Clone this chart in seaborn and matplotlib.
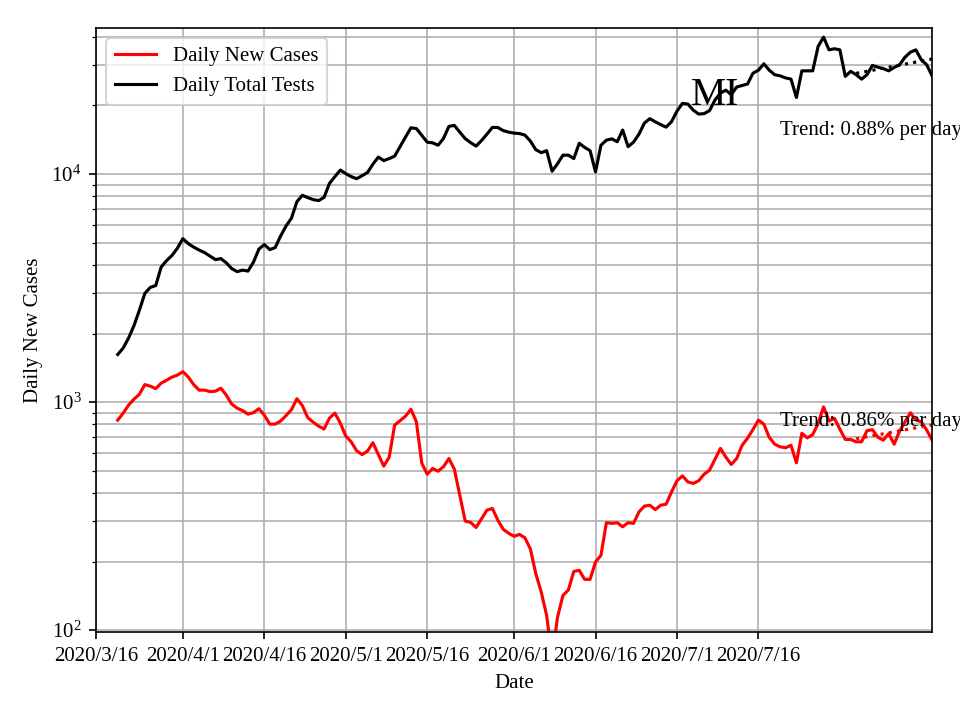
import numpy as np
import pandas as pd
import seaborn as sns
import matplotlib.pyplot as plt

# daily series, starting 2020-03-20
start = '2020-03-20'
new_cases = [834, 895, 970, 1031, 1083, 1194, 1175, 1146, 1211, 1248,
             1288, 1314, 1361, 1288, 1193, 1129, 1129, 1112, 1117, 1151,
             1073, 980, 941, 918, 886, 899, 936, 877, 801, 801,
             826, 873, 927, 1035, 966, 855, 817, 785, 762, 851,
             895, 809, 710, 670, 612, 589, 610, 664, 589, 524,
             574, 793, 829, 868, 931, 821, 540, 483, 512, 498,
             521, 566, 508, 391, 301, 297, 282, 308, 336, 342,
             304, 277, 266, 258, 263, 254, 227, 177, 147, 116,
             75, 114, 142, 150, 181, 183, 167, 167, 199, 213,
             296, 294, 296, 284, 296, 294, 330, 350, 353, 338,
             353, 357, 404, 452, 475, 447, 440, 452, 483, 503,
             562, 627, 574, 533, 566, 647, 695, 759, 834, 801,
             700, 654, 637, 631, 647, 542, 730, 697, 721, 806,
             953, 826, 849, 762, 686, 686, 670, 670, 750, 757,
             702, 681, 727, 654, 746, 820, 898, 834, 820, 754, 681]
total_tests = [1618, 1726, 1910, 2167, 2535, 3000, 3186, 3246, 3910, 4176,
               4400, 4735, 5213, 4955, 4783, 4643, 4527, 4368, 4216, 4260,
               4083, 3852, 3736, 3793, 3756, 4110, 4690, 4910, 4668, 4760,
               5350, 5920, 6412, 7567, 8075, 7888, 7730, 7656, 7906, 9102,
               9750, 10420, 10050, 9750, 9550, 9840, 10160, 11060, 11880, 11460,
               11700, 11990, 13200, 14530, 15960, 15850, 14790, 13810, 13710, 13390,
               14340, 16200, 16350, 15280, 14310, 13740, 13270, 14030, 14970, 16020,
               16020, 15520, 15280, 15130, 15060, 14830, 13960, 12800, 12420, 12670,
               10300, 11110, 12110, 12110, 11700, 13650, 13100, 12670, 10230, 13390,
               14090, 14280, 13870, 15600, 13200, 13810, 14970, 16740, 17510, 16960,
               16480, 16070, 16990, 18880, 20420, 20290, 19090, 18340, 18420, 18990,
               21130, 22660, 23350, 22320, 24100, 24460, 24850, 27720, 28560, 30470,
               28560, 27290, 26980, 26420, 26100, 21680, 28380, 28380, 28380, 36310,
               39900, 35070, 35460, 35070, 26840, 28240, 27290, 26100, 27290, 29990,
               29440, 29010, 28380, 29370, 30150, 32580, 34260, 35070, 31710, 30150, 26920]

tick_dates = ['2020-03-16', '2020-04-01', '2020-04-16', '2020-05-01', '2020-05-16',
              '2020-06-01', '2020-06-16', '2020-07-01', '2020-07-16']
tick_labels = ['2020/3/16', '2020/4/1', '2020/4/16', '2020/5/1', '2020/5/16',
               '2020/6/1', '2020/6/16', '2020/7/1', '2020/7/16']
trend_text = {'cases': 'Trend: 0.86% per day', 'tests': 'Trend: 0.88% per day'}
trend_days = 15

plt.rcParams['font.family'] = ['Liberation Serif', 'DejaVu Serif']
plt.rcParams['mathtext.fontset'] = 'stix'

dates = pd.date_range(start, periods=len(new_cases), freq='D')
df = pd.DataFrame({'date': dates, 'cases': new_cases, 'tests': total_tests})

fig, ax = plt.subplots(figsize=(6.4, 4.8), dpi=150)
fig.subplots_adjust(left=0.1, right=0.971, top=0.961, bottom=0.122)

sns.lineplot(x='date', y='cases', data=df, color='r', label='Daily New Cases', ax=ax)
sns.lineplot(x='date', y='tests', data=df, color='k', label='Daily Total Tests', ax=ax)
ax.set_yscale('log')

# log-linear fit over the last days
tail = df.tail(trend_days)
t = np.arange(trend_days)
text_y = {'cases': 826, 'tests': 15600}
for col, c in [('cases', 'r'), ('tests', 'k')]:
    k, b = np.polyfit(t, np.log(tail[col].values), 1)
    ax.plot(tail['date'], np.exp(b + k * t), ':', color=c)
    ax.text(dates[-1] - pd.Timedelta(days=28), text_y[col], trend_text[col],
            ha='left', va='center', fontsize=10)

ax.text(0.74, 0.888, 'MI', transform=ax.transAxes, ha='center', va='center', fontsize=19)

ax.set_xlim(pd.Timestamp('2020-03-16'), dates[-1])
ax.set_ylim(98, 43700)
ax.set_xticks(pd.to_datetime(tick_dates))
ax.set_xticklabels(tick_labels)
ax.grid(True, which='major', axis='x')
ax.grid(True, which='both', axis='y')
ax.set_xlabel('Date')
ax.set_ylabel('Daily New Cases')
ax.legend(loc='upper left')

fig.savefig('out.png', dpi=150)
